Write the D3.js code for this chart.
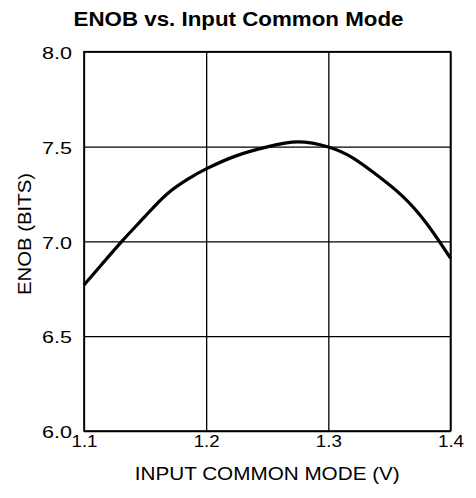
<!DOCTYPE html>
<html>
<head>
<meta charset="utf-8">
<script src="https://cdn.jsdelivr.net/npm/d3@7"></script>
<style>
  html, body { margin: 0; padding: 0; background: #fff; }
  svg { display: block; }
  text { font-family: "Liberation Sans", Arial, Helvetica, sans-serif; fill: #000; }
</style>
</head>
<body>
<svg id="chart" width="476" height="498"></svg>
<script>
// ENOB measured across the input common-mode voltage range
const commonModeV = [1.100, 1.115, 1.131, 1.150, 1.168, 1.185, 1.200, 1.225, 1.250,
                     1.275, 1.300, 1.320, 1.340, 1.360, 1.380, 1.400];
const enobBits    = [6.770, 6.882, 7.000, 7.132, 7.250, 7.328, 7.382, 7.452, 7.498,
                     7.524, 7.497, 7.440, 7.348, 7.242, 7.098, 6.911];

const xTicks = [1.1, 1.2, 1.3, 1.4];
const yTicks = [6.0, 6.5, 7.0, 7.5, 8.0];

const titleText = "ENOB vs. Input Common Mode";
const xLabelText = "INPUT COMMON MODE (V)";
const yLabelText = "ENOB (BITS)";

const W = 476, H = 498;
const margin = { top: 51.7, right: 25.5, bottom: 67, left: 84 };
const iw = W - margin.left - margin.right;
const ih = H - margin.top - margin.bottom;

const svg = d3.select("#chart");
const g = svg.append("g").attr("transform", `translate(${margin.left},${margin.top})`);

const x = d3.scaleLinear().domain([1.1, 1.4]).range([0, iw]);
const y = d3.scaleLinear().domain([6.0, 8.0]).range([ih, 0]);

// stretch a text element horizontally to a target width
function fitWidth(sel, width) {
  sel.attr("textLength", width).attr("lengthAdjust", "spacingAndGlyphs");
}

// grid lines
g.append("g")
  .call(d3.axisBottom(x).tickValues(xTicks).tickSize(-ih).tickFormat(""))
  .attr("transform", `translate(0,${ih})`)
  .call(a => a.select(".domain").remove())
  .selectAll("line").attr("stroke", "#000").attr("stroke-width", 1.3);

g.append("g")
  .call(d3.axisLeft(y).tickValues(yTicks).tickSize(-iw).tickFormat(""))
  .call(a => a.select(".domain").remove())
  .selectAll("line").attr("stroke", "#000").attr("stroke-width", 1.3);

// plot frame
g.append("rect")
  .attr("x", 0).attr("y", 0).attr("width", iw).attr("height", ih)
  .attr("fill", "none").attr("stroke", "#000").attr("stroke-width", 1.6);

// tick labels
const xAxis = g.append("g")
  .attr("transform", `translate(0,${ih})`)
  .call(d3.axisBottom(x).tickValues(xTicks).tickSize(0).tickPadding(4).tickFormat(d3.format(".1f")));
xAxis.select(".domain").remove();
xAxis.selectAll("text")
  .attr("font-size", 17).attr("font-family", null).attr("dy", "0.71em")
  .each(function () { fitWidth(d3.select(this), 26); });

const yAxis = g.append("g")
  .call(d3.axisLeft(y).tickValues(yTicks).tickSize(0).tickPadding(12).tickFormat(d3.format(".1f")));
yAxis.select(".domain").remove();
yAxis.selectAll("text")
  .attr("font-size", 17).attr("font-family", null).attr("dy", "0.4em")
  .each(function () { fitWidth(d3.select(this), 30); });

// data curve
const line = d3.line()
  .x((d, i) => x(commonModeV[i]))
  .y(d => y(d))
  .curve(d3.curveNatural);

g.append("path")
  .datum(enobBits)
  .attr("d", line)
  .attr("fill", "none")
  .attr("stroke", "#000")
  .attr("stroke-width", 3.2)
  .attr("stroke-linejoin", "round")
  .attr("stroke-linecap", "butt");

// title
svg.append("text")
  .attr("x", 238.5).attr("y", 26)
  .attr("text-anchor", "middle")
  .attr("font-size", 20).attr("font-weight", "bold")
  .text(titleText)
  .call(fitWidth, 330);

// x axis title
svg.append("text")
  .attr("x", margin.left + iw / 2).attr("y", 480)
  .attr("text-anchor", "middle")
  .attr("font-size", 17.5)
  .text(xLabelText)
  .call(fitWidth, 265);

// y axis title
svg.append("text")
  .attr("transform", `translate(31,234) rotate(-90)`)
  .attr("text-anchor", "middle")
  .attr("font-size", 17.5)
  .text(yLabelText)
  .call(fitWidth, 122);
</script>
</body>
</html>
